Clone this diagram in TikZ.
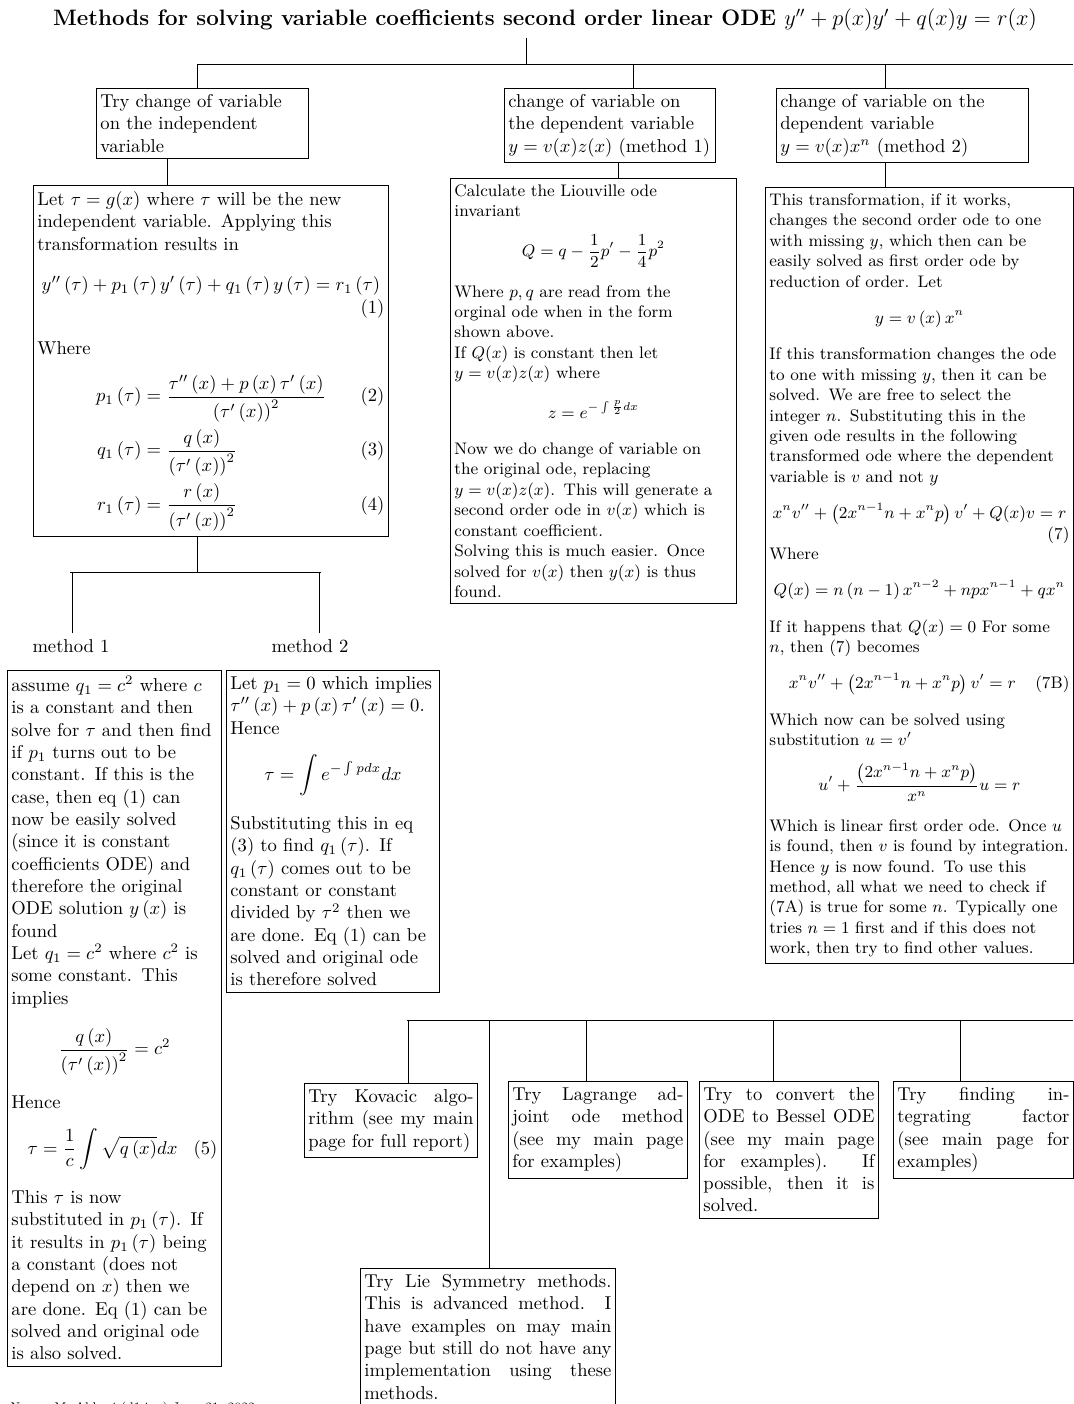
\documentclass[tikz,border=0pt]{standalone}
\usepackage{amsmath,amssymb}
\usepackage{tikz}
\newdimen\unitpx
\unitpx=0.5376pt

\begin{document}
\begin{tikzpicture}[x=0.5376pt, y=-0.5376pt, line width=0.5pt,
	every node/.style={font=\normalsize},
	box/.style={draw, anchor=north west, align=left, inner xsep=4\unitpx, inner ysep=6\unitpx},
	smallbox/.style={box, font=\small},
	jbox/.style={box, align=justify}]
	\useasboundingbox (0,0) rectangle (1073,1404);

	\node[font=\large\bfseries] (title) at (545,20) {Methods for solving variable coefficients second order linear ODE $y''+p(x)y'+q(x)y=r(x)$};

	% first level
	\node[box, text width=204\unitpx] (indep) at (96,88) {Try change of variable\\ on the independent\\ variable};
	\node[box, text width=203\unitpx] (depone) at (504,88) {change of variable on\\ the dependent variable\\ $y=v(x)z(x)$ (method 1)};
	\node[box, text width=244\unitpx] (deptwo) at (776,88) {change of variable on the\\ dependent variable\\ $y=v(x)x^n$ (method 2)};

	\node[box, text width=347\unitpx] (transform) at (33,185) {Let $\tau=g(x)$ where $\tau$ will be the new\\ independent variable. Applying this\\ transformation results in
	\begin{equation*}
	y''\left(\tau\right)+p_1\left(\tau\right)y'\left(\tau\right)+q_1\left(\tau\right)y\left(\tau\right)=r_1\left(\tau\right)\tag{1}
	\end{equation*}
	\par\vspace{10pt}\noindent Where
	\begin{align*}
	p_1\left(\tau\right)&=\frac{\tau''\left(x\right)+p\left(x\right)\tau'\left(x\right)}{\left(\tau'\left(x\right)\right)^2}\tag{2}\\
	q_1\left(\tau\right)&=\frac{q\left(x\right)}{\left(\tau'\left(x\right)\right)^2}\tag{3}\\
	r_1\left(\tau\right)&=\frac{r\left(x\right)}{\left(\tau'\left(x\right)\right)^2}\tag{4}
	\end{align*}};

	\node[smallbox, text width=278\unitpx] (liouville) at (450,178) {Calculate the Liouville ode\\ invariant
	\[Q=q-\frac{1}{2}p'-\frac{1}{4}p^2\]
	Where $p,q$ are read from the\\ orginal ode when in the form\\ shown above.\\ If $Q(x)$ is constant then let\\ $y=v(x)z(x)$ where
	\[z=e^{-\int\frac{p}{2}dx}\]
	Now we do change of variable on\\ the original ode, replacing\\ $y=v(x)z(x)$. This will generate a\\ second order ode in $v(x)$ which is\\ constant coefficient.\\ Solving this is much easier. Once\\ solved for $v(x)$ then $y(x)$ is thus\\ found.};

	\node[smallbox, text width=300\unitpx] (reduce) at (765,187) {This transformation, if it works,\\ changes the second order ode to one\\ with missing $y$, which then can be\\ easily solved as first order ode by\\ reduction of order. Let
	\[y=v\left(x\right)x^n\]
	If this transformation changes the ode\\ to one with missing $y$, then it can be\\ solved. We are free to select the\\ integer $n$. Substituting this in the\\ given ode results in the following\\ transformed ode where the dependent\\ variable is $v$ and not $y$
	\begin{equation*}
	x^n v''+\left(2x^{n-1}n+x^n p\right)v'+Q(x)v=r\tag{7}
	\end{equation*}
	Where
	\[Q(x)=n\left(n-1\right)x^{n-2}+npx^{n-1}+qx^n\]
	If it happens that $Q(x)=0$ For some\\ $n$, then (7) becomes
	\begin{equation*}
	x^n v''+\left(2x^{n-1}n+x^n p\right)v'=r\tag{7B}
	\end{equation*}
	Which now can be solved using\\ substitution $u=v'$
	\[u'+\frac{\left(2x^{n-1}n+x^n p\right)}{x^n}u=r\]
	Which is linear first order ode. Once $u$\\ is found, then $v$ is found by integration.\\ Hence $y$ is now found. To use this\\ method, all what we need to check if\\ (7A) is true for some $n$. Typically one\\ tries $n=1$ first and if this does not\\ work, then try to find other values.};

	% the two methods
	\node (mone) at (71,646) {method 1};
	\node (mtwo) at (310,646) {method 2};

	\node[box, text width=206\unitpx] (constq) at (7,670) {assume $q_1=c^2$ where $c$\\ is a constant and then\\ solve for $\tau$ and then find\\ if $p_1$ turns out to be\\ constant. If this is the\\ case, then eq (1) can\\ now be easily solved\\ (since it is constant\\ coefficients ODE) and\\ therefore the original\\ ODE solution $y\left(x\right)$ is\\ found\\ Let $q_1=c^2$ where $c^2$ is\\ some constant. This\\ implies
	\[\frac{q\left(x\right)}{\left(\tau'\left(x\right)\right)^2}=c^2\]
	Hence
	\begin{equation*}
	\tau=\frac{1}{c}\int\sqrt{q\left(x\right)}dx\tag{5}
	\end{equation*}
	This $\tau$ is now\\ substituted in $p_1\left(\tau\right)$. If\\ it results in $p_1\left(\tau\right)$ being\\ a constant (does not\\ depend on $x$) then we\\ are done. Eq (1) can be\\ solved and original ode\\ is also solved.};

	\node[box, text width=205\unitpx] (zerop) at (226,670) {Let $p_1=0$ which implies\\ $\tau''\left(x\right)+p\left(x\right)\tau'\left(x\right)=0$.\\ Hence
	\[\tau=\int e^{-\int p dx}dx\]
	Substituting this in eq\\ (3) to find $q_1\left(\tau\right)$. If\\ $q_1\left(\tau\right)$ comes out to be\\ constant or constant\\ divided by $\tau^2$ then we\\ are done. Eq (1) can be\\ solved and original ode\\ is therefore solved};

	% other methods
	\node[jbox, text width=165\unitpx] (kovacic) at (304,1083) {\sloppy Try Kovacic algo-\linebreak rithm (see my main\linebreak page for full report)};
	\node[jbox, text width=171\unitpx] (adjoint) at (508,1081) {\sloppy Try Lagrange ad-\linebreak joint ode method\linebreak (see my main page\linebreak for examples)};
	\node[jbox, text width=171\unitpx] (bessel) at (699,1081) {\sloppy Try to convert the\linebreak ODE to Bessel ODE\linebreak (see my main page\linebreak for examples). If\linebreak possible, then it is\linebreak solved.};
	\node[jbox, text width=172\unitpx] (intfactor) at (893,1081) {\sloppy Try finding in-\linebreak tegrating factor\linebreak (see main page for\linebreak examples)};
	\node[jbox, text width=247\unitpx] (lie) at (360,1268) {\sloppy Try Lie Symmetry methods.\linebreak This is advanced method. I\linebreak have examples on may main\linebreak page but still do not have any\linebreak implementation using these\linebreak methods.};

	\node[anchor=base west, inner sep=0, font=\fontsize{6}{7}\selectfont] (stamp) at (10,1410) {Nasser M. Abbasi (d1.ipe) June 21, 2022};

	% connectors
	\coordinate (trunk) at (526,64);
	\coordinate (busW) at (197,64);
	\coordinate (busE) at (1073,64);
	\coordinate (dropC) at (633,64);
	\coordinate (dropD) at (885,64);
	\draw (trunk |- title.south) -- (trunk);
	\draw (busW) -- (busE);
	\draw (busW) -- (busW |- indep.north);
	\draw (dropC) -- (dropC |- depone.north);
	\draw (dropD) -- (dropD |- deptwo.north);

	\coordinate (stemB) at (167,0);
	\coordinate (stemE) at (618,0);
	\coordinate (stemF) at (885,0);
	\draw (stemB |- indep.south) -- (stemB |- transform.north);
	\draw (stemE |- depone.south) -- (stemE |- liouville.north);
	\draw (stemF |- deptwo.south) -- (stemF |- reduce.north);

	\coordinate (split) at (197,572);
	\coordinate (splitW) at (70,572);
	\coordinate (splitE) at (321,572);
	\coordinate (legone) at (72,572);
	\coordinate (legtwo) at (319,572);
	\draw (split |- transform.south) -- (split);
	\draw (splitW) -- (splitE);
	\draw (legone) -- (legone |- mone.north);
	\draw (legtwo) -- (legtwo |- mtwo.north);

	\coordinate (busbW) at (407,1020);
	\coordinate (busbE) at (1073,1020);
	\draw (busbW) -- (busbE);
	\foreach \x/\n in {408/kovacic, 489/lie, 586/adjoint, 773/bessel, 960/intfactor}
		\draw (\x,1020) -- (\x,1020 |- \n.north);
\end{tikzpicture}
\end{document}
